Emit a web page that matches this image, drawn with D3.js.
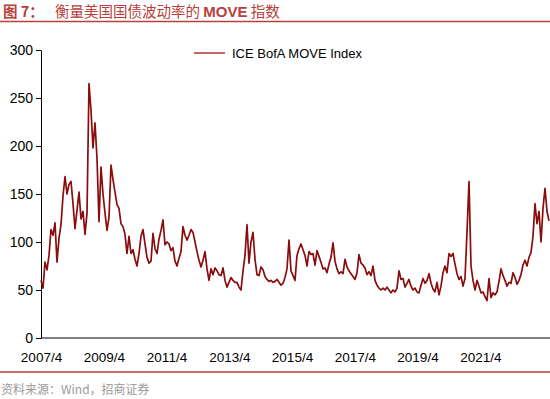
<!DOCTYPE html>
<html>
<head>
<meta charset="utf-8">
<script src="https://cdn.jsdelivr.net/npm/d3@7"></script>
<style>
  html, body { margin: 0; padding: 0; background: #fff; }
  svg { display: block; }
</style>
</head>
<body>
<svg id="chart" width="550" height="399"></svg>
<script>
// MOVE 指数，按图读数（约每 23 天一个点）
const seriesName = 'ICE BofA MOVE Index';
const dateStart = '2007-04-01';
const dateEnd = '2023-06-10';
const moveValues = [
  60, 52, 79, 71, 86, 113, 107, 120, 79, 104, 118, 148, 168, 150, 160, 163, 140, 114, 133, 152,
  124, 132, 108, 130, 265, 237, 198, 224, 187, 121, 178, 150, 130, 112, 126, 180, 165, 152, 139, 135,
  119, 116, 108, 88, 106, 88, 92, 82, 75, 88, 106, 113, 98, 84, 78, 80, 109, 93, 88, 103,
  112, 123, 97, 100, 98, 91, 94, 80, 75, 83, 90, 116, 107, 102, 107, 113, 110, 100, 90, 81,
  74, 81, 90, 72, 60, 72, 66, 73, 70, 66, 65, 73, 60, 53, 58, 63, 60, 58, 58, 53,
  50, 70, 86, 118, 78, 100, 110, 82, 66, 65, 74, 71, 64, 61, 59, 60, 58, 59, 61, 58,
  55, 57, 63, 72, 102, 70, 65, 60, 86, 93, 98, 92, 86, 75, 90, 87, 88, 76, 91, 85,
  79, 72, 73, 68, 77, 84, 99, 80, 72, 67, 69, 67, 82, 74, 70, 67, 64, 61, 68, 87,
  78, 76, 73, 66, 69, 65, 75, 60, 55, 52, 50, 52, 50, 53, 50, 47, 50, 48, 52, 70,
  61, 62, 53, 57, 61, 54, 50, 52, 48, 47, 55, 62, 57, 60, 67, 57, 51, 48, 58, 45,
  54, 68, 75, 68, 88, 85, 88, 77, 67, 61, 64, 54, 62, 110, 163, 75, 60, 50, 60, 54,
  47, 48, 43, 39, 62, 42, 47, 45, 48, 59, 72, 65, 60, 54, 58, 57, 68, 63, 56, 60,
  66, 76, 81, 75, 84, 89, 106, 140, 119, 132, 100, 135, 156, 132, 122
];
const yTicks = [0, 50, 100, 150, 200, 250, 300];
const xTickMonths = ['2007-04', '2009-04', '2011-04', '2013-04', '2015-04', '2017-04', '2019-04', '2021-04'];

const titleLabel = '图 7：';
const titleText = ['衡量美国国债波动率的 ', 'MOVE', ' 指数'];
const sourceText = '资料来源：Wind，招商证券';

const width = 550, height = 399;
const plot = { left: 41, right: 549, top: 50, bottom: 338 };
const lineColor = '#8a0c0c';
const accent = '#b8403a';
const sansFont = '"Liberation Sans", Arial, sans-serif';
const cjkFont = '"Noto Sans CJK SC", "Liberation Sans", sans-serif';

const parseDay = d3.timeParse('%Y-%m-%d');
const parseMonth = d3.timeParse('%Y-%m');
const [d0, d1] = [parseDay(dateStart), parseDay(dateEnd)];
// 各点日期在起止日期之间等距分布
const data = moveValues.map((v, i) => ({
  date: new Date(+d0 + (d1 - d0) * i / (moveValues.length - 1)),
  value: v
}));

const x = d3.scaleTime().domain([d0, d1]).range([plot.left, plot.right]);
const y = d3.scaleLinear().domain([0, 300]).range([plot.bottom, plot.top]);

const svg = d3.select('#chart');

// 标题
const title = svg.append('text')
  .attr('y', 17)
  .attr('fill', accent)
  .style('font-size', '14.5px');
title.append('tspan').attr('x', 3).style('font-family', cjkFont).style('font-weight', 'bold').text(titleLabel);
title.append('tspan').attr('x', 55).style('font-family', cjkFont).text(titleText[0]);
title.append('tspan').style('font-family', sansFont).style('font-weight', 'bold').style('font-size', '15px').text(titleText[1]);
title.append('tspan').style('font-family', cjkFont).text(titleText[2]);

svg.append('line')
  .attr('x1', 0).attr('x2', width).attr('y1', 21.5).attr('y2', 21.5)
  .attr('stroke', accent).attr('stroke-width', 1.5);

// y 轴
svg.append('g')
  .attr('transform', `translate(${plot.left},0)`)
  .call(d3.axisLeft(y).tickValues(yTicks).tickSize(5).tickPadding(3).tickSizeOuter(0))
  .call(g => g.select('.domain').attr('stroke', '#000'))
  .call(g => g.selectAll('.tick line').attr('stroke', '#000'))
  .call(g => g.selectAll('.tick text')
    .attr('fill', '#000')
    .style('font-family', sansFont)
    .style('font-size', '14px'));

// x 轴（无刻度线）
svg.append('g')
  .attr('transform', `translate(0,${plot.bottom})`)
  .call(d3.axisBottom(x)
    .tickValues(xTickMonths.map(parseMonth))
    .tickFormat(d3.timeFormat('%Y/%-m'))
    .tickSize(0).tickPadding(14).tickSizeOuter(0))
  .call(g => g.select('.domain').attr('stroke', '#000').attr('d', `M${plot.left},0H${width}`))
  .call(g => g.selectAll('.tick text')
    .attr('fill', '#000')
    .style('font-family', sansFont)
    .style('font-size', '13.5px'));

// 折线
const line = d3.line()
  .x(d => x(d.date))
  .y(d => y(d.value));

svg.append('path')
  .datum(data)
  .attr('fill', 'none')
  .attr('stroke', lineColor)
  .attr('stroke-width', 1.7)
  .attr('stroke-linejoin', 'round')
  .attr('d', line);

// 图例
const legend = svg.append('g').attr('transform', 'translate(194,53)');
legend.append('line')
  .attr('x1', 0).attr('x2', 31).attr('y1', 0).attr('y2', 0)
  .attr('stroke', '#a80f16').attr('stroke-width', 1.3);
legend.append('text')
  .attr('x', 38).attr('y', 5)
  .style('font-family', sansFont)
  .style('font-size', '13px')
  .attr('fill', '#000')
  .text(seriesName);

// 底部来源
svg.append('line')
  .attr('x1', 0).attr('x2', width).attr('y1', 372).attr('y2', 372)
  .attr('stroke', accent).attr('stroke-width', 1.5);

svg.append('text')
  .attr('x', 1).attr('y', 394)
  .style('font-family', cjkFont)
  .style('font-size', '12px')
  .attr('fill', '#9a9a9a')
  .text(sourceText);
</script>
</body>
</html>
